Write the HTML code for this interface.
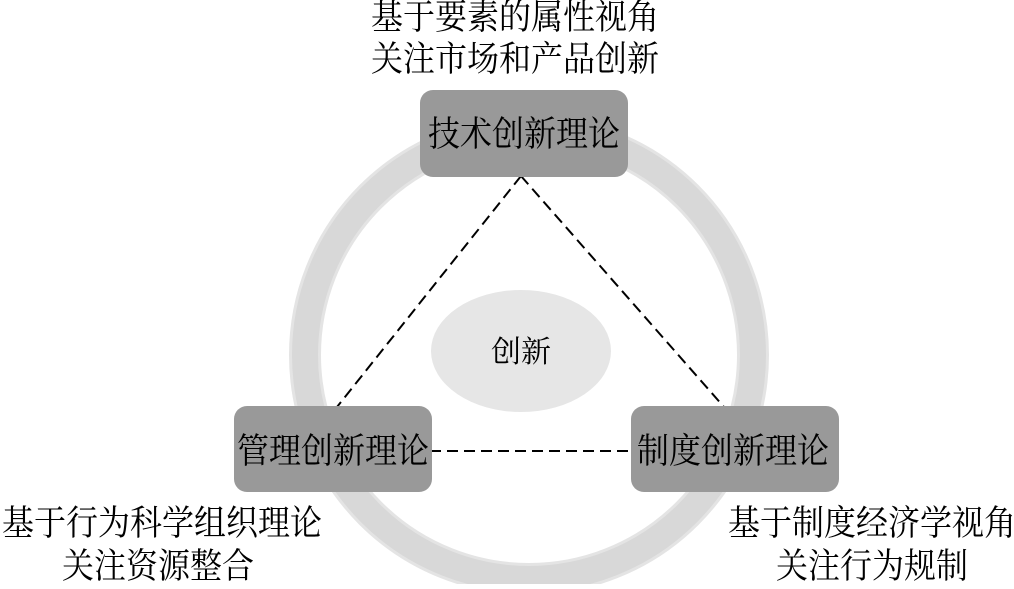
<!DOCTYPE html>
<html><head><meta charset="utf-8"><style>
html,body{margin:0;padding:0;background:#fff;}
body{width:1014px;height:584px;overflow:hidden;position:relative;}
svg text{font-family:"Liberation Serif","Noto Serif CJK SC",serif;fill:#000;}
</style></head><body>
<svg width="1014" height="584" viewBox="0 0 1014 584" xmlns="http://www.w3.org/2000/svg">
<circle cx="529" cy="355" r="224" fill="none" stroke="#e4e4e4" stroke-width="32"/>
<circle cx="529" cy="355" r="224" fill="none" stroke="#d8d8d8" stroke-width="26"/>
<ellipse cx="521" cy="351" rx="90" ry="61" fill="#e6e6e6"/>
<text x="521" y="362" font-size="30" text-anchor="middle">创新</text>
<g stroke="#000" stroke-width="2" stroke-dasharray="11,6" fill="none">
<line x1="521" y1="176" x2="337" y2="407"/>
<line x1="521" y1="176" x2="724" y2="407"/>
<line x1="430" y1="451" x2="632" y2="451"/>
</g>
<rect x="420" y="90" width="208" height="87" rx="13" fill="#999"/>
<rect x="234" y="406" width="198" height="86" rx="13" fill="#999"/>
<rect x="631" y="406" width="208" height="86" rx="13" fill="#999"/>
<g font-size="32" text-anchor="middle">
<text transform="translate(524,146) scale(1,1.1)">技术创新理论</text>
<text transform="translate(333,463) scale(1,1.1)">管理创新理论</text>
<text transform="translate(733,463) scale(1,1.1)">制度创新理论</text>
<text transform="translate(515,29) scale(1,1.1)">基于要素的属性视角</text>
<text transform="translate(515,71) scale(1,1.1)">关注市场和产品创新</text>
<text transform="translate(162,535) scale(1,1.1)">基于行为科学组织理论</text>
<text transform="translate(158,578) scale(1,1.1)">关注资源整合</text>
<text transform="translate(872,535) scale(1,1.1)">基于制度经济学视角</text>
<text transform="translate(872,578) scale(1,1.1)">关注行为规制</text>
</g>
</svg>
</body></html>
